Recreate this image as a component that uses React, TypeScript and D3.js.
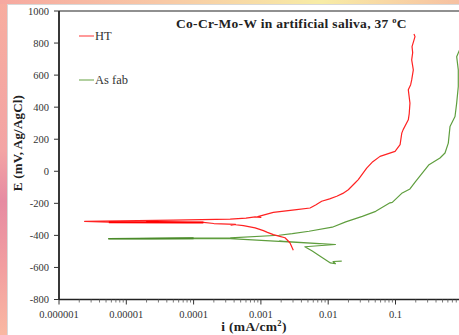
import React from "react";
import * as d3 from "d3";

const W = 459;
const H = 335;

// HT curve (current density mA/cm2, potential mV)
const htI = [0.00303, 0.0027, 0.00228, 0.00185, 0.00153, 0.00125, 0.00109, 0.00082, 0.00055, 0.00039, 0.00036, 0.00042, 0.0002, 0.00014, 0.00002, 0.00008, 0.0000055, 0.0000024, 0.00005, 0.00035, 0.0006, 0.00082, 0.001, 0.0009, 0.00153, 0.0034, 0.00537, 0.0065, 0.008, 0.0105, 0.0134, 0.0165, 0.0199, 0.025, 0.028, 0.0373, 0.046, 0.0589, 0.0985, 0.117, 0.124, 0.13, 0.155, 0.16, 0.164, 0.155, 0.168, 0.174, 0.184, 0.174, 0.18, 0.176, 0.195, 0.188];
const htE = [-492, -446, -415, -405, -395, -381, -370, -353, -339, -332, -336, -331, -326, -319, -318, -319, -318, -312, -305, -298, -292, -285, -287, -283, -256, -239, -229, -210, -187, -172, -156, -138, -115, -73, -52, 20, 60, 93, 124, 166, 238, 260, 321, 360, 425, 508, 540, 570, 633, 695, 740, 778, 840, 857];

// As fab curve
const afI = [0.0159, 0.0118, 0.0128, 0.0108, 0.0075, 0.0058, 0.0045, 0.0128, 0.0019, 0.0073, 0.00035, 0.0001, 0.0000055, 0.0001, 0.00035, 0.00186, 0.00293, 0.00519, 0.0115, 0.0182, 0.0321, 0.0508, 0.0828, 0.0896, 0.126, 0.164, 0.1995, 0.315, 0.458, 0.544, 0.609, 0.646, 0.766, 0.811, 0.857, 0.857, 0.811, 0.9, 1.0];
const afE = [-561, -563, -577, -572, -528, -498, -471, -457, -436, -451, -420, -421, -421, -417, -415, -399, -389, -374, -349, -316, -281, -250, -197, -194, -135, -110, -63, 41, 83, 114, 176, 280, 342, 425, 529, 633, 715, 760, 820];

const yTicks = [-800, -600, -400, -200, 0, 200, 400, 600, 800, 1000];
const xTicks = [1e-6, 1e-5, 1e-4, 1e-3, 1e-2, 1e-1];
const xTickLabels = ["0.000001", "0.00001", "0.0001", "0.001", "0.01", "0.1"];

const title = "Co-Cr-Mo-W in artificial saliva, 37 ";
const seriesNames = ["HT", "As fab"];

export default function App() {
  const x = d3.scaleLog().domain([1e-6, 1]).range([59, 462.8]);
  const y = d3.scaleLinear().domain([-800, 1000]).range([299.5, 11]);

  const mk = (I: number[], E: number[]) =>
    d3
      .line<[number, number]>()
      .x((d) => x(d[0]))
      .y((d) => y(d[1]))(I.map((v, k) => [v, E[k]] as [number, number])) || "";

  const minor: number[] = [];
  for (let e = -6; e < 0; e++) {
    for (let m = 2; m <= 9; m++) minor.push(m * Math.pow(10, e));
  }

  const font = "'Liberation Serif', 'Times New Roman', serif";
  const x0 = x.range()[0];
  const yb = y.range()[0];
  const yt = y.range()[1];

  return (
    <svg
      width={W}
      height={H}
      style={{ position: "absolute", left: 0, top: 0 }}
      fontFamily={font}
    >
      <defs>
        <linearGradient id="lg" x1="0" y1="0" x2="0" y2="1">
          <stop offset="0" stopColor="#f7ad9f" />
          <stop offset="0.45" stopColor="#f3a4a4" />
          <stop offset="0.6" stopColor="#e68ba2" />
          <stop offset="0.8" stopColor="#f29ea0" />
          <stop offset="1" stopColor="#f9b8a2" />
        </linearGradient>
        <linearGradient id="tg" x1="0" y1="0" x2="1" y2="0">
          <stop offset="0" stopColor="#f6a8a0" />
          <stop offset="0.35" stopColor="#f8c8a6" />
          <stop offset="0.7" stopColor="#f7eca6" />
          <stop offset="0.85" stopColor="#f8d6a4" />
          <stop offset="1" stopColor="#f6c0a2" />
        </linearGradient>
        <clipPath id="plot">
          <rect x={x0} y={yt} width={W - x0} height={yb - yt} />
        </clipPath>
      </defs>
      <rect x={0} y={0} width={W} height={H} fill="#ffffff" />
      <rect x={0} y={0} width={7} height={H} fill="url(#lg)" />
      <rect x={0} y={0} width={W} height={4} fill="url(#tg)" />
      <line x1={7.5} y1={4} x2={7.5} y2={H} stroke="#d8d8d8" strokeWidth={1} />
      <line x1={7} y1={4.5} x2={W} y2={4.5} stroke="#d8d8d8" strokeWidth={1} />

      {/* plot frame */}
      <line x1={x0} y1={yt} x2={W} y2={yt} stroke="#222" strokeWidth={1.2} />
      <line x1={x0} y1={yt} x2={x0} y2={yb} stroke="#222" strokeWidth={1.8} />
      <line x1={x0} y1={yb} x2={W} y2={yb} stroke="#222" strokeWidth={1.5} />

      {/* y ticks */}
      {yTicks.map((t) => (
        <g key={"y" + t}>
          <line x1={x0 - 5} x2={x0} y1={y(t)} y2={y(t)} stroke="#333" strokeWidth={1} />
          <text x={49} y={y(t) + 3.6} textAnchor="end" fontSize={10.5} fill="#333">
            {t}
          </text>
        </g>
      ))}

      {/* x ticks */}
      {minor.map((t, k) => (
        <line key={"m" + k} x1={x(t)} x2={x(t)} y1={yb} y2={yb + 3} stroke="#555" strokeWidth={0.8} />
      ))}
      {xTicks.map((t, k) => (
        <g key={"x" + k}>
          <line x1={x(t)} x2={x(t)} y1={yb} y2={yb + 5} stroke="#333" strokeWidth={1} />
          <text x={x(t)} y={318} textAnchor="middle" fontSize={10.5} fill="#333">
            {xTickLabels[k]}
          </text>
        </g>
      ))}

      {/* curves */}
      <g clipPath="url(#plot)" fill="none" strokeLinejoin="round">
        <path d={mk(afI, afE)} stroke="#5f9e3e" strokeWidth={1.2} />
        <path d={mk(htI, htE)} stroke="#ff2222" strokeWidth={1.2} />
        <path d={mk(htI.slice(13, 17), htE.slice(13, 17))} stroke="#ff0000" strokeWidth={2} />
        <path d={mk(afI.slice(11, 14), afE.slice(11, 14))} stroke="#4a8a2a" strokeWidth={1.6} />
      </g>

      {/* legend */}
      <line x1={79} x2={94} y1={36} y2={36} stroke="#ff5555" strokeWidth={1.2} />
      <text x={95} y={40} fontSize={12.5} fill="#333">
        {seriesNames[0]}
      </text>
      <line x1={79} x2={94} y1={80} y2={80} stroke="#7fb060" strokeWidth={1.2} />
      <text x={95} y={84} fontSize={12.5} fill="#333">
        {seriesNames[1]}
      </text>

      {/* title */}
      <text x={176} y={28} fontSize={13.5} fontWeight="bold" fill="#222" letterSpacing={0.3}>
        {title}
        <tspan fontSize={8.5} dy={-5}>o</tspan>
        <tspan dy={5}>C</tspan>
      </text>

      {/* axis titles */}
      <text x={254} y={331} textAnchor="middle" fontSize={13.5} fontWeight="bold" fill="#222" letterSpacing={0.3}>
        i (mA/cm<tspan fontSize={8.5} dy={-5}>2</tspan>
        <tspan dy={5}>)</tspan>
      </text>
      <text
        transform={`translate(22,143) rotate(-90)`}
        textAnchor="middle"
        fontSize={13}
        fontWeight="bold"
        fill="#222"
        letterSpacing={0.2}
      >
        E (mV, Ag/AgCl)
      </text>
    </svg>
  );
}
